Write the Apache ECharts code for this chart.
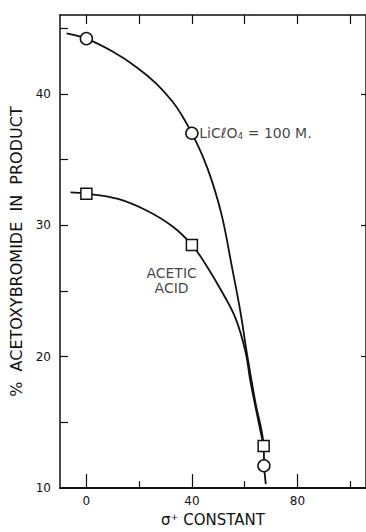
<!DOCTYPE html>
<html>
<head>
<meta charset="utf-8">
<script src="https://cdn.jsdelivr.net/npm/echarts@6/dist/echarts.min.js"></script>
<style>
  html, body { margin: 0; padding: 0; background: #fff; }
  #chart { width: 366px; height: 532px; }
</style>
</head>
<body>
<div id="chart"></div>
<script>
// values (x = sigma+ constant, y = % acetoxybromide)
var licloPoints = [[0, 44.2], [40, 37.0], [67.3, 11.7]];
var aceticPoints = [[0, 32.4], [40, 28.5], [67.2, 13.2]];

// hand-drawn curves
var licloCurve = [[-7.5, 44.6], [0, 44.2], [10.1, 43.2], [18.9, 42.05], [26.4, 40.8], [32.7, 39.4],
  [36.4, 38.3], [40, 37.0], [44, 35.3], [47.7, 33.3], [51.5, 30.6], [55.3, 26.7], [58.4, 23.4],
  [60.9, 20.2], [64, 16.6], [67.2, 13.2], [67.4, 11.7], [68, 10.3]];
var aceticCurve = [[-6, 32.5], [0, 32.4], [12, 32.0], [23, 31.1], [32.7, 29.9], [40, 28.5],
  [45.3, 27.0], [51.5, 24.9], [56.6, 22.9], [60.3, 20.4], [62.2, 18.1], [64.7, 15.6], [67.2, 13.2]];

var xLabels = [0, 40, 80];
var xMinorTicks = [20, 60, 100];
var xTopTicks = [0, 20, 40, 60, 80, 100];
var yLabels = [10, 20, 30, 40];
var yTicks = [15, 20, 25, 30, 35, 40, 45];
var yRightTicks = [20, 30, 40];

var aceticText = 'ACETIC\nACID';
var annotations = [[42.8, 37.05], [32.3, 25.8]];

var ink = '#111';
var font = 'DejaVu Sans';
var X_MIN = -10, X_MAX = 106, Y_MIN = 10, Y_MAX = 46;

function xAx(extra) {
  var base = {
    type: 'value', min: X_MIN, max: X_MAX, position: 'bottom',
    axisLine: { show: false, lineStyle: { color: ink, width: 2 } },
    axisTick: { show: false }, axisLabel: { show: false }, splitLine: { show: false }
  };
  return Object.assign(base, extra);
}

var chart = echarts.init(document.getElementById('chart'), null, { renderer: 'svg' });
chart.setOption({
  animation: false,
  textStyle: { fontFamily: font, color: ink },
  grid: { left: 60, right: -2, top: 15, bottom: 41 },
  xAxis: [
    xAx({
      axisLine: { show: true, onZero: false, lineStyle: { color: ink, width: 2 } },
      axisTick: { show: true, inside: true, length: 14, customValues: xLabels, lineStyle: { color: ink, width: 1.2 } },
      axisLabel: { show: true, customValues: xLabels, margin: 7, color: ink, fontSize: 12, fontFamily: font },
      name: 'σ⁺ CONSTANT', nameLocation: 'middle', nameGap: 22,
      nameTextStyle: { fontSize: 15, color: ink, fontFamily: font }
    }),
    xAx({
      axisTick: { show: true, inside: true, length: 7, customValues: xMinorTicks, lineStyle: { color: ink, width: 1.2 } }
    }),
    xAx({
      position: 'top',
      axisLine: { show: true, onZero: false, lineStyle: { color: ink, width: 1.5 } },
      axisTick: { show: true, inside: true, length: 9, customValues: xTopTicks, lineStyle: { color: ink, width: 1.2 } }
    })
  ],
  yAxis: [
    {
      type: 'value', min: Y_MIN, max: Y_MAX,
      axisLine: { show: true, onZero: false, lineStyle: { color: ink, width: 1.5 } },
      axisTick: { show: true, inside: true, length: 8, customValues: yTicks, lineStyle: { color: ink, width: 1.2 } },
      axisLabel: { customValues: yLabels, margin: 9, color: ink, fontSize: 12, fontFamily: font },
      splitLine: { show: false },
      name: '%  ACETOXYBROMIDE  IN  PRODUCT', nameLocation: 'middle', nameGap: 23, nameRotate: 90,
      nameTextStyle: { fontSize: 16, color: ink, fontFamily: font }
    },
    {
      type: 'value', min: Y_MIN, max: Y_MAX, position: 'right',
      axisLine: { show: true, onZero: false, lineStyle: { color: ink, width: 1.5 } },
      axisTick: { show: true, inside: true, length: 5, customValues: yRightTicks, lineStyle: { color: ink, width: 1.2 } },
      axisLabel: { show: false }, splitLine: { show: false }
    }
  ],
  series: [
    {
      type: 'line', data: licloCurve, smooth: 0.4, symbol: 'none',
      lineStyle: { color: ink, width: 1.8 }, z: 2
    },
    {
      type: 'line', data: aceticCurve, smooth: 0.4, symbol: 'none',
      lineStyle: { color: ink, width: 1.8 }, z: 2
    },
    {
      type: 'scatter', data: licloPoints, symbol: 'circle', symbolSize: 12,
      itemStyle: { color: '#fff', borderColor: ink, borderWidth: 1.5, opacity: 1 }, z: 5
    },
    {
      type: 'scatter', data: aceticPoints, symbol: 'rect', symbolSize: 11,
      itemStyle: { color: '#fff', borderColor: ink, borderWidth: 1.5, opacity: 1 }, z: 5
    },
    {
      type: 'scatter', symbolSize: 0, silent: true, z: 6,
      data: [
        {
          value: annotations[0],
          label: {
            show: true, position: 'right', distance: 0,
            formatter: '{n|LiCℓO}{s|4}{n| = 100 M.}',
            rich: {
              n: { fontSize: 14, fontFamily: font, color: ink },
              s: { fontSize: 9, fontFamily: font, color: ink, padding: [7, 0, 0, 0] }
            }
          }
        },
        {
          value: annotations[1],
          label: {
            show: true, position: 'inside', formatter: aceticText,
            fontSize: 14, lineHeight: 15, fontFamily: font, color: ink, align: 'center'
          }
        }
      ]
    }
  ]
});
window.addEventListener('resize', function() { chart.resize(); });
</script>
</body>
</html>
